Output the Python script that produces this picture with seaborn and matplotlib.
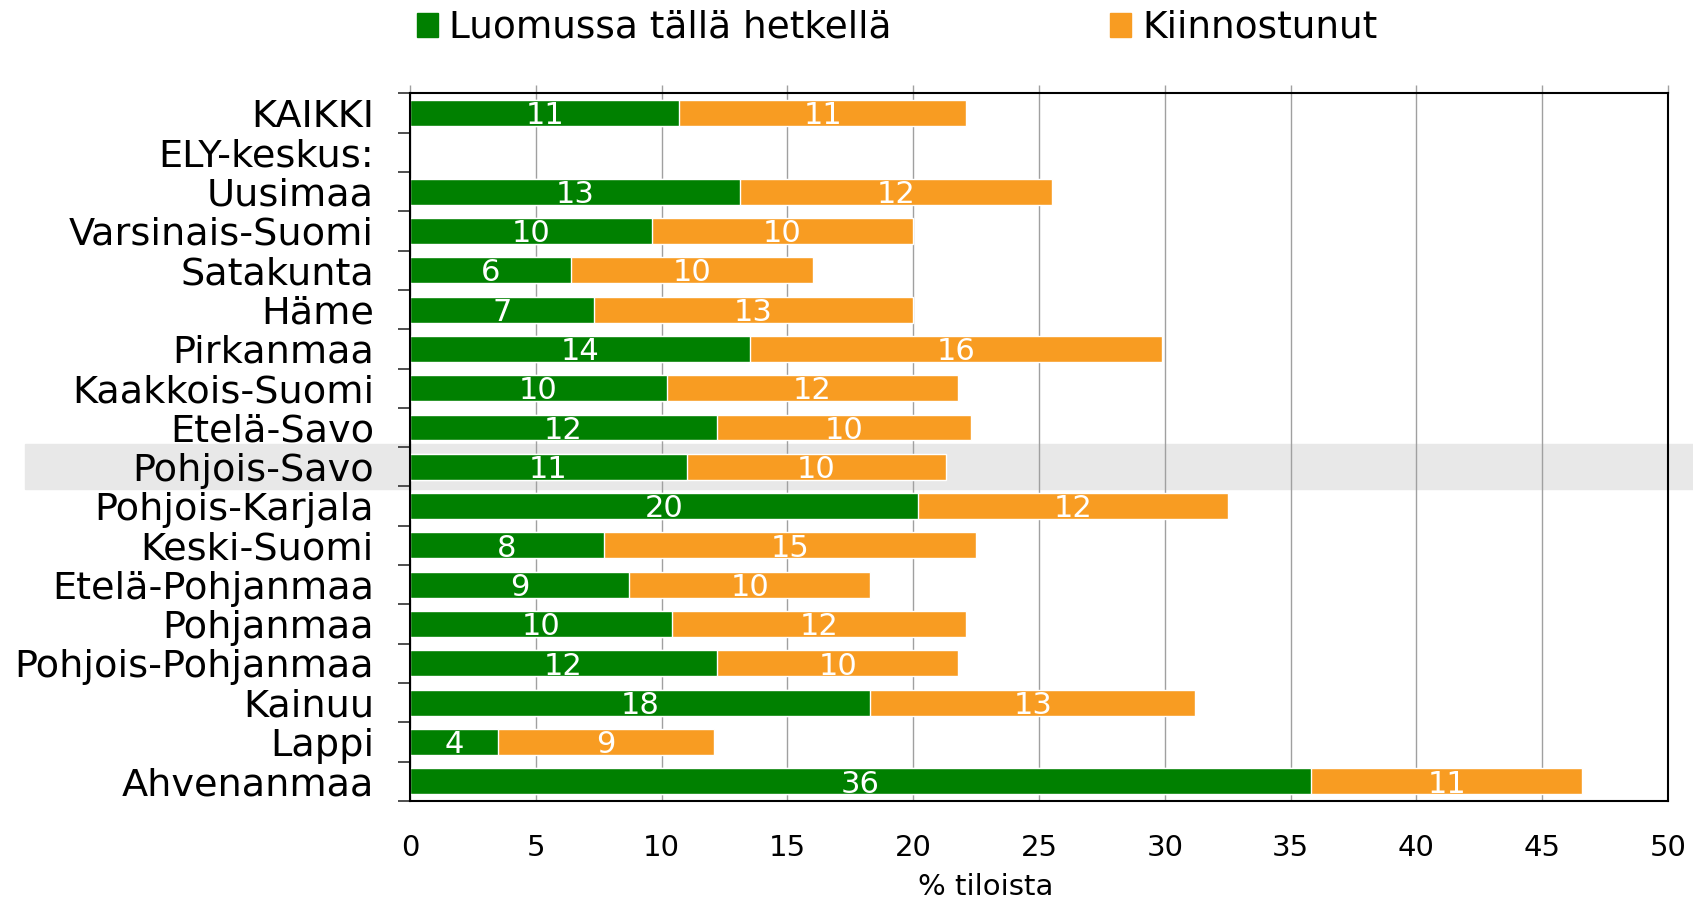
import numpy as np
import pandas as pd
import seaborn as sns
import matplotlib.pyplot as plt
from matplotlib.patches import Patch, Rectangle

alueet = ["KAIKKI", "ELY-keskus:", "Uusimaa", "Varsinais-Suomi", "Satakunta", "Häme",
          "Pirkanmaa", "Kaakkois-Suomi", "Etelä-Savo", "Pohjois-Savo", "Pohjois-Karjala",
          "Keski-Suomi", "Etelä-Pohjanmaa", "Pohjanmaa", "Pohjois-Pohjanmaa", "Kainuu",
          "Lappi", "Ahvenanmaa"]
luomussa = [10.7, np.nan, 13.1, 9.6, 6.4, 7.3, 13.5, 10.2, 12.2, 11.0, 20.2, 7.7, 8.7,
            10.4, 12.2, 18.3, 3.5, 35.8]
kiinnostunut = [11.4, np.nan, 12.4, 10.4, 9.6, 12.7, 16.4, 11.6, 10.1, 10.3, 12.3, 14.8,
                9.6, 11.7, 9.6, 12.9, 8.6, 10.8]
luomussa_lbl = ["11", "", "13", "10", "6", "7", "14", "10", "12", "11", "20", "8", "9",
                "10", "12", "18", "4", "36"]
kiinnostunut_lbl = ["11", "", "12", "10", "10", "13", "16", "12", "10", "10", "12", "15",
                    "10", "12", "10", "13", "9", "11"]

vihrea = "#008000"
oranssi = "#F89C22"

df = pd.DataFrame({"alue": alueet, "luomussa": luomussa, "kiinnostunut": kiinnostunut})
df["yhteensa"] = df["luomussa"] + df["kiinnostunut"]
data = df.dropna()

sns.set_style("white")
plt.rcParams["font.family"] = ["DejaVu Sans"]
plt.rcParams["text.color"] = "black"
plt.rcParams["xtick.labelcolor"] = "black"
plt.rcParams["ytick.labelcolor"] = "black"
plt.rcParams["axes.labelcolor"] = "black"

fig = plt.figure(figsize=(16.93, 8.99), dpi=100)
ax = fig.add_axes([410 / 1693, 1 - 801 / 899, 1258 / 1693, 707.7 / 899])
ax.set_facecolor("none")

# highlight band behind Pohjois-Savo
fig.patches.append(Rectangle((25 / 1693, 1 - 489 / 899), 1668 / 1693, 45 / 899,
                             transform=fig.transFigure, color="#e8e8e8", zorder=-1))

sns.barplot(data=data, y="alue", x="yhteensa", order=alueet, color=oranssi, saturation=1,
            width=0.66, errorbar=None, orient="h", ax=ax)
sns.barplot(data=data, y="alue", x="luomussa", order=alueet, color=vihrea, saturation=1,
            width=0.66, errorbar=None, orient="h", ax=ax)

for i, (g, o, gl, ol) in enumerate(zip(luomussa, kiinnostunut, luomussa_lbl, kiinnostunut_lbl)):
    if np.isnan(g):
        continue
    ax.text(g / 2, i + 0.07, gl, color="white", ha="center", va="center", fontsize=22)
    ax.text(g + o / 2, i + 0.07, ol, color="white", ha="center", va="center", fontsize=22)

ax.set_xlim(0, 50)
ax.set_ylim(17.5, -0.5)
ax.set_xticks(np.arange(0, 51, 5))
ax.set_yticks(range(len(alueet)))
ax.set_yticklabels(alueet)
ax.set_yticks(np.arange(-0.5, 18, 1), minor=True)
ax.set_ylabel("")
ax.set_xlabel("% tiloista", fontsize=21, color="black")
ax.xaxis.set_label_coords(0.458, -0.102)

ax.grid(axis="x", color="#a0a0a0", lw=1)
ax.set_axisbelow(True)
ax.tick_params(axis="y", which="major", length=0, pad=26, labelsize=27.5, labelcolor="black")
ax.tick_params(axis="y", which="minor", left=True, length=9, width=1.3, color="#404040")
ax.tick_params(axis="x", which="major", bottom=False, top=True, labeltop=False,
               length=6, width=1, color="#a0a0a0", pad=18, labelsize=21, labelcolor="black")
for s in ax.spines.values():
    s.set_visible(True)
    s.set_color("black")
    s.set_linewidth(1.5)

handles = [Patch(color=vihrea, label="Luomussa tällä hetkellä"),
           Patch(color=oranssi, label="Kiinnostunut")]
fig.legend(handles=handles, loc="center left", bbox_to_anchor=(417 / 1693, 1 - 28 / 899),
           ncol=2, frameon=False, fontsize=27, handlelength=0.55, handleheight=0.6,
           handletextpad=0.3, columnspacing=5.83, borderpad=0, borderaxespad=0,
           labelcolor="black")

fig.savefig("out.png", dpi=100)
